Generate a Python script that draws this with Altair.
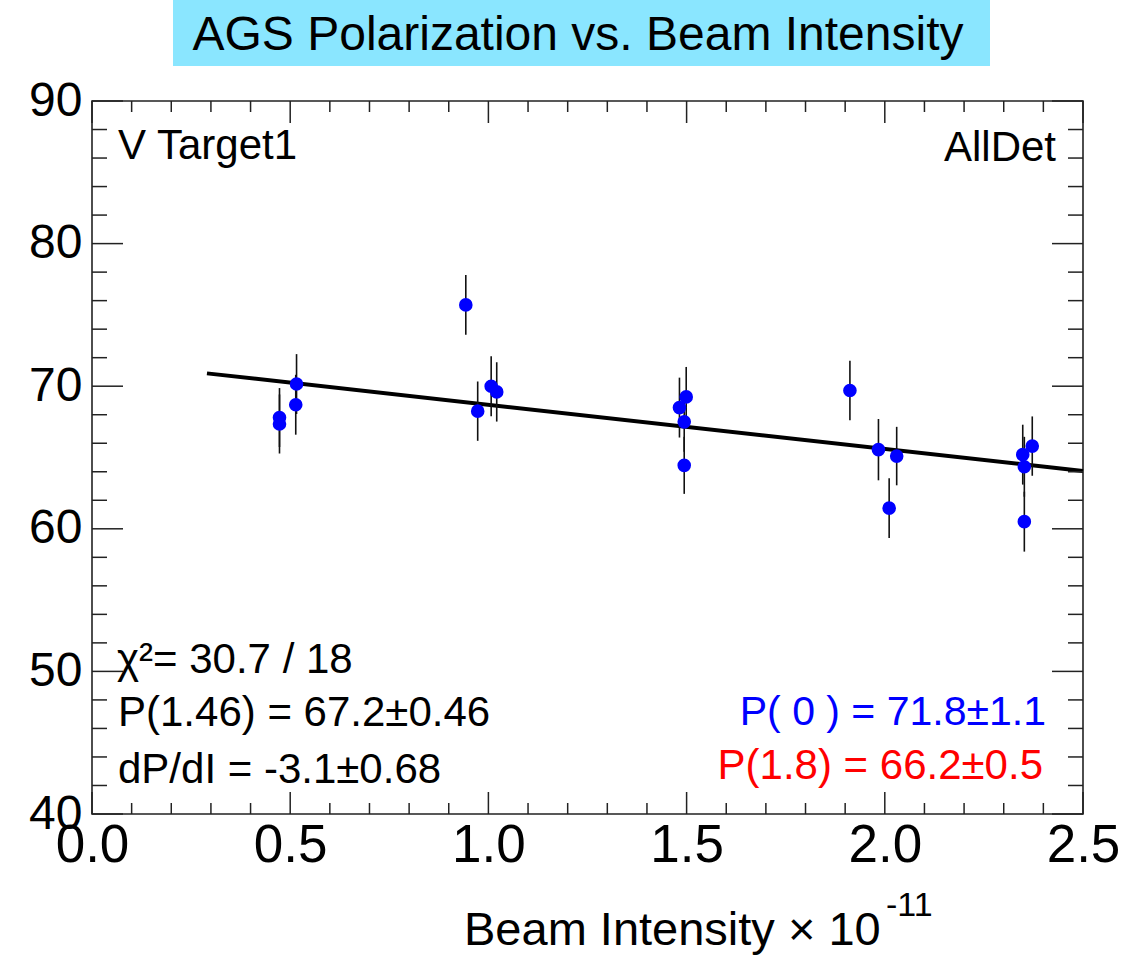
import altair as alt
import pandas as pd

W, H = 991, 713

# ---- data ----
intensity = [0.473, 0.473, 0.516, 0.514, 0.943, 0.973, 1.007, 1.021, 1.482, 1.499,
             1.494, 1.494, 1.912, 1.984, 2.011, 2.030, 2.348, 2.372, 2.352, 2.352]
polarization = [67.8, 67.35, 70.15, 68.7, 75.7, 68.25, 70.0, 69.6, 68.5, 69.25,
                67.5, 64.45, 69.7, 65.55, 61.45, 65.1, 65.2, 65.8, 64.35, 60.5]
error = [2.07, 2.07, 2.1, 2.1, 2.1, 2.08, 2.1, 2.08, 2.1, 2.1,
         2.1, 2.0, 2.08, 2.15, 2.1, 2.05, 2.1, 2.08, 2.1, 2.1]

fit_x = [0.29, 2.5]
fit_y = [70.9, 64.05]

x_major = [0.0, 0.5, 1.0, 1.5, 2.0, 2.5]
x_minor = [0.1, 0.2, 0.3, 0.4, 0.6, 0.7, 0.8, 0.9, 1.1, 1.2, 1.3, 1.4,
           1.6, 1.7, 1.8, 1.9, 2.1, 2.2, 2.3, 2.4]
y_major = [40, 50, 60, 70, 80, 90]
y_minor = [42, 44, 46, 48, 52, 54, 56, 58, 62, 64, 66, 68,
           72, 74, 76, 78, 82, 84, 86, 88]

title_text = "AGS Polarization vs. Beam Intensity"
stats_lines = ["χ²= 30.7 / 18", "P(1.46) = 67.2±0.46", "dP/dI = -3.1±0.68"]
blue_text = "P( 0 ) = 71.8±1.1"
red_text = "P(1.8) = 66.2±0.5"

FONT = "Liberation Sans"

df = pd.DataFrame({"I": intensity, "P": polarization, "err": error})
df["lo"] = df["P"] - df["err"]
df["hi"] = df["P"] + df["err"]
fit_df = pd.DataFrame({"I": fit_x, "P": fit_y})

xs = alt.Scale(domain=[0, 2.5], nice=False, zero=False)
ys = alt.Scale(domain=[40, 90], nice=False, zero=False)
xaxis = alt.Axis(values=x_major, format=".1f", labelFontSize=53, labelPadding=5,
                 labelFont=FONT, labelColor="black", labelFlush=False)
yaxis = alt.Axis(values=y_major, format="d", labelFontSize=48, labelPadding=10,
                 labelFont=FONT, labelColor="black", labelFlush=False)


def X(field):
    return alt.X(field, type="quantitative", scale=xs, axis=xaxis, title=None)


def Y(field):
    return alt.Y(field, type="quantitative", scale=ys, axis=yaxis, title=None)


one = alt.Data(values=[{}])

fit = alt.Chart(fit_df).mark_line(color="black", strokeWidth=4).encode(x=X("I"), y=Y("P"))
bars = alt.Chart(df).mark_rule(color="#111", strokeWidth=1.6).encode(
    x=X("I"), y=Y("lo"), y2="hi")
pts = alt.Chart(df).mark_circle(size=185, color="#0000ff", opacity=1).encode(
    x=X("I"), y=Y("P"))

# ticks pointing inward on all four sides
xmaj = pd.DataFrame({"t": x_major})
xmin = pd.DataFrame({"t": x_minor})
ymaj = pd.DataFrame({"t": y_major})
ymin = pd.DataFrame({"t": y_minor})
tk = dict(color="#222", strokeWidth=1.5)
ticks = [
    alt.Chart(xmaj).mark_rule(**tk).encode(x=X("t"), y=alt.value(H), y2=alt.value(H - 22)),
    alt.Chart(xmin).mark_rule(**tk).encode(x=X("t"), y=alt.value(H), y2=alt.value(H - 11)),
    alt.Chart(xmaj).mark_rule(**tk).encode(x=X("t"), y=alt.value(0), y2=alt.value(22)),
    alt.Chart(xmin).mark_rule(**tk).encode(x=X("t"), y=alt.value(0), y2=alt.value(11)),
    alt.Chart(ymaj).mark_rule(**tk).encode(y=Y("t"), x=alt.value(0), x2=alt.value(31)),
    alt.Chart(ymin).mark_rule(**tk).encode(y=Y("t"), x=alt.value(0), x2=alt.value(15)),
    alt.Chart(ymaj).mark_rule(**tk).encode(y=Y("t"), x=alt.value(W), x2=alt.value(W - 31)),
    alt.Chart(ymin).mark_rule(**tk).encode(y=Y("t"), x=alt.value(W), x2=alt.value(W - 15)),
]


def txt(s, x, y, size, align="left", color="black", font=FONT):
    return alt.Chart(one).mark_text(
        text=s, align=align, baseline="alphabetic", fontSize=size, color=color, font=font
    ).encode(x=alt.value(x), y=alt.value(y))


title_box = alt.Chart(one).mark_rect(color="#8ae6ff").encode(
    x=alt.value(81), x2=alt.value(898), y=alt.value(-101), y2=alt.value(-35))

texts = [
    txt(title_text, 486, -51, 48, align="center"),
    txt("V Target1", 26, 58, 42),
    txt("AllDet", 964, 60, 42, align="right"),
    txt(stats_lines[0], 25, 572, 42),
    txt(stats_lines[1], 26, 625, 42),
    txt(stats_lines[2], 26, 682, 42),
    txt(blue_text, 954, 624, 41, align="right", color="#0000ff"),
    txt(red_text, 951, 678, 42, align="right", color="#ff0000"),
    txt("Beam Intensity × 10", 372, 844, 47),
    txt("-11", 794, 815, 34),
]

chart = alt.layer(
    title_box, fit, bars, pts, *ticks, *texts
).properties(
    width=W, height=H,
    padding={"left": 92, "top": 101, "right": 60, "bottom": 141},
    autosize=alt.AutoSizeParams(type="none"),
    background="white",
).configure_view(
    stroke="#222", strokeWidth=1.6
).configure_axis(
    grid=False, domain=False, ticks=False
)

chart.save("out.html", embed_options={"renderer": "svg", "actions": False})
